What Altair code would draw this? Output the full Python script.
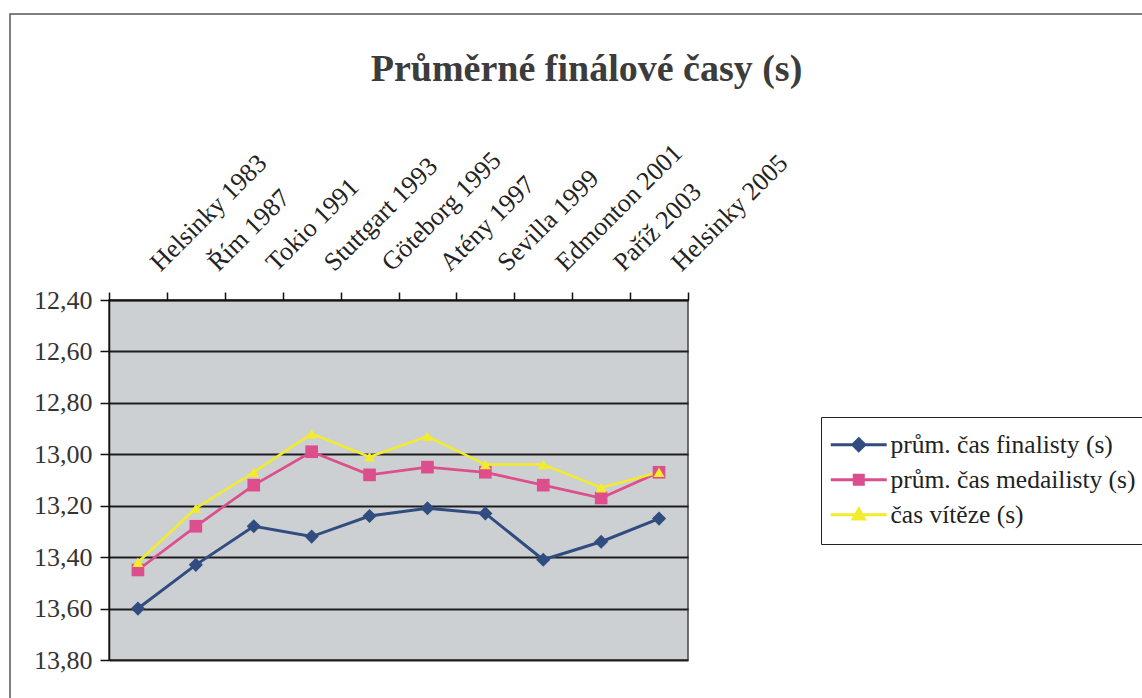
import altair as alt
import pandas as pd

# Mistrovství světa – průměrné časy finálového běhu
mista = ["Helsinky 1983", "Řím 1987", "Tokio 1991", "Stuttgart 1993", "Göteborg 1995",
         "Atény 1997", "Sevilla 1999", "Edmonton 2001", "Paříž 2003", "Helsinky 2005"]
prum_finalisty = [13.60, 13.43, 13.28, 13.32, 13.24, 13.21, 13.23, 13.41, 13.34, 13.25]
prum_medailisty = [13.45, 13.28, 13.12, 12.99, 13.08, 13.05, 13.07, 13.12, 13.17, 13.07]
cas_viteze = [13.42, 13.21, 13.07, 12.92, 13.01, 12.93, 13.04, 13.04, 13.13, 13.07]

serie = ["prům. čas finalisty (s)", "prům. čas medailisty (s)", "čas vítěze (s)"]
barvy = ["#314d80", "#dc4f8c", "#f2ec2a"]
y_ticks = [12.4, 12.6, 12.8, 13.0, 13.2, 13.4, 13.6, 13.8]

rows = []
for nazev, hodnoty in zip(serie, [prum_finalisty, prum_medailisty, cas_viteze]):
    for misto, v in zip(mista, hodnoty):
        rows.append({"misto": misto, "serie": nazev, "cas": v})
df = pd.DataFrame(rows)

FONT = "Liberation Serif"
FS = 26

x_enc = alt.X(
    "misto:N", sort=mista,
    scale=alt.Scale(type="band", paddingInner=0, paddingOuter=0),
    axis=alt.Axis(orient="top", title=None, labelAngle=-45, labelAlign="left",
                  labelBaseline="alphabetic", labelOffset=22, labelPadding=20,
                  tickSize=8, tickBand="extent", tickColor="#111", tickWidth=1.5,
                  labelFont=FONT, labelFontSize=FS, labelColor="#222",
                  labelOverlap=False, labelLimit=300, domainColor="#111",
                  domainWidth=1.5, grid=False),
)
y_enc = alt.Y(
    "cas:Q",
    scale=alt.Scale(domain=[12.4, 13.8], reverse=True, nice=False, zero=False),
    axis=alt.Axis(title=None, values=y_ticks,
                  labelExpr="replace(format(datum.value, '.2f'), '.', ',')",
                  labelFont=FONT, labelFontSize=FS, labelColor="#333",
                  labelPadding=8, tickSize=9, tickColor="#111", tickWidth=1.5,
                  domainColor="#111", domainWidth=1.5,
                  grid=True, gridColor="#1e1e1e", gridWidth=2),
)
color_scale = alt.Scale(domain=serie, range=barvy)

base = alt.Chart(df)

# spojnice řad
lines = base.mark_line().encode(
    x=x_enc, y=y_enc,
    color=alt.Color("serie:N", scale=color_scale, legend=None),
    strokeWidth=alt.StrokeWidth("serie:N",
                                scale=alt.Scale(domain=serie, range=[3, 2.5, 3]),
                                legend=None),
    order=alt.Order("misto_idx:Q"),
).transform_calculate(
    misto_idx="indexof(" + str(mista) + ", datum.misto)"
)

# značky bodů
points = base.mark_point(filled=True, opacity=1).encode(
    x=x_enc, y=y_enc,
    color=alt.Color("serie:N", scale=color_scale, legend=None),
    shape=alt.Shape("serie:N",
                    scale=alt.Scale(domain=serie, range=["diamond", "square", "triangle-up"]),
                    legend=None),
    size=alt.Size("serie:N",
                  scale=alt.Scale(domain=serie, range=[200, 120, 170]),
                  legend=None),
)

# legenda ve stylu čára + značka
legend_paths = [
    "M-3,0H6.33M1.67,-1L2.67,0L1.67,1L0.67,0Z",
    "M-3,0H6.33M0.92,-0.75H2.42V0.75H0.92Z",
    "M-3,0H6.33M1.67,-0.95L2.6,0.7H0.74Z",
]
legenda = alt.Legend(
    title=None, orient="none", legendX=712, legendY=117,
    symbolSize=144, symbolStrokeWidth=3, symbolOpacity=1,
    labelFont=FONT, labelFontSize=25.5, labelColor="#222", labelLimit=400,
    labelOffset=29, rowPadding=8, padding=15,
    strokeColor="#222",
)
legend_layer = base.mark_point(filled=True, opacity=0).encode(
    x=x_enc, y=y_enc,
    fill=alt.Fill("serie:N", scale=alt.Scale(domain=serie, range=barvy), legend=legenda),
    stroke=alt.Stroke("serie:N", scale=alt.Scale(domain=serie, range=barvy), legend=legenda),
    shape=alt.Shape("serie:N", scale=alt.Scale(domain=serie, range=legend_paths), legend=legenda),
)

# rámeček celého grafu
frame = alt.Chart(alt.Data(values=[{}])).mark_rect(
    fill=None, stroke="#555", strokeWidth=1.5
).encode(
    x=alt.value(-99), x2=alt.value(1045), y=alt.value(-286), y2=alt.value(410)
)

chart = alt.layer(frame, lines, points, legend_layer).resolve_scale(
    shape="independent", fill="independent", stroke="independent", size="independent",
    strokeWidth="independent"
).properties(
    width=579, height=360,
    title=alt.TitleParams("Průměrné finálové časy (s)", font=FONT, fontSize=38,
                          fontWeight="bold", color="#3c3c3c", anchor="middle",
                          dx=188, offset=0, dy=76),
    autosize=alt.AutoSizeParams(type="none"),
    padding={"left": 109, "top": 300, "right": 454, "bottom": 38},
    background="white",
).configure_view(
    fill="#cdd0d2", stroke="#444", strokeWidth=1.5
)

chart.save("out.html", embed_options={"renderer": "svg", "actions": False})
